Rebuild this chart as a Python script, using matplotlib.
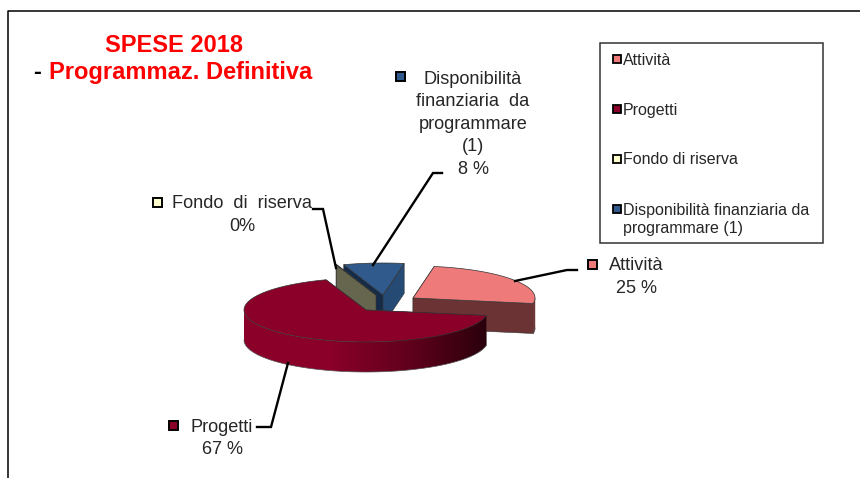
import numpy as np
import matplotlib
matplotlib.use('Agg')
import matplotlib.pyplot as plt
from matplotlib.patches import Polygon, Rectangle
from matplotlib.colors import LinearSegmentedColormap

plt.rcParams['font.family'] = ['Liberation Sans', 'DejaVu Sans']

# data
categories = ['Attività', 'Progetti', 'Fondo di riserva', 'Disponibilità finanziaria da\nprogrammare (1)']
shares = [25, 67, 0.1, 8]
slice_labels = [['Attività', '25 %'], ['Progetti', '67 %'], ['Fondo  di  riserva', '0%'],
                ['Disponibilità', 'finanziaria  da', 'programmare', '(1)', '8 %']]
top_colors = ['#EE7A7A', '#8B0029', '#FFFFCC', '#30598C']
wall_colors = ['#6B3333', '#8B0029', '#66664F', '#254A74']
inner_colors = ['#6B3333', '#8B0029', '#66664F', '#142C4A']
explode = [(47, -12), (0, 0), (10, -15), (17, -15)]

W, H = 860, 478
CX, CY = 366, 310
RX, RY = 122, 32
DEPTH = 30
START = 80.0

fig = plt.figure(figsize=(W / 100, H / 100), dpi=100)
ax = fig.add_axes([0, 0, 1, 1])

# outer frame, only top and left are visible
ax.plot([7.5, 7.5, W], [H, 10.5, 10.5], color='black', lw=1.1, solid_capstyle='butt')

rim_cmap = LinearSegmentedColormap.from_list('rim', [(0, '#8B0029'), (0.35, '#8B0029'), (0.7, '#5E001C'), (1, '#2A000C')])


def arc(cx, cy, t0, t1, n=120):
    t = np.radians(np.linspace(t0, t1, n))
    return cx + RX * np.cos(t), cy - RY * np.sin(t)


def wall(cx, cy, t, color):
    x, y = arc(cx, cy, t, t, 1)
    ax.fill([cx, x[0], x[0], cx], [cy, y[0], y[0] + DEPTH, cy + DEPTH],
            facecolor=color, edgecolor='#333333', lw=0.4)


def draw_slice(i, t0, t1):
    cx, cy = CX + explode[i][0], CY + explode[i][1]
    wall(cx, cy, t0, inner_colors[i])
    wall(cx, cy, t1, wall_colors[i])
    # visible part of the outer rim is the front half of the ellipse
    a = max(t1, -180)
    b = min(t0, 0)
    if b > a:
        x, y = arc(cx, cy, a, b)
        pts = np.c_[np.r_[x, x[::-1]], np.r_[y, y[::-1] + DEPTH]]
        if i == 1:
            # Progetti fades to near black towards the right
            img = ax.imshow(np.linspace(0, 1, 256)[None, :], cmap=rim_cmap, aspect='auto',
                            extent=(x.min(), x.max(), y.max() + DEPTH, y.min()), zorder=1)
            clip = Polygon(pts, closed=True, transform=ax.transData, facecolor='none', edgecolor='none')
            ax.add_patch(clip)
            img.set_clip_path(clip)
        else:
            ax.fill(pts[:, 0], pts[:, 1], facecolor=wall_colors[i], edgecolor=wall_colors[i], lw=0.3)
        ax.plot(x, y + DEPTH, color='#555555', lw=0.5, zorder=1.1)
    x, y = arc(cx, cy, t0, t1)
    ax.fill(np.r_[cx, x], np.r_[cy, y], facecolor=top_colors[i], edgecolor='#333333', lw=0.5, zorder=1.2)


# angles go clockwise from the start angle
sweeps = np.array(shares) / sum(shares) * 360
ends = START - np.cumsum(sweeps)
starts = np.r_[START, ends[:-1]]

# painter order, back slices first
for i in [3, 2, 0, 1]:
    draw_slice(i, starts[i], ends[i])

ax.set_xlim(0, W)
ax.set_ylim(H, 0)
ax.axis('off')

# leader lines
leaders = [
    ([515, 567, 577], [281, 270, 270]),
    ([288, 271, 257], [363, 427, 427]),
    ([336, 323, 313], [268, 209, 209]),
    ([373, 433, 442], [265, 173, 173]),
]
for lx, ly in leaders:
    ax.plot(lx, ly, color='black', lw=1.7, solid_joinstyle='miter', zorder=3)

# data labels with their little keys
label_x = [636, 222, 242, 473]
label_y = [266, 427, 204, 79]
line_gap = 22.6
key_xy = [(592, 264), (173, 425), (157, 202), (400, 76)]
for i in range(4):
    for j, line in enumerate(slice_labels[i]):
        ax.text(label_x[i], label_y[i] + j * line_gap, line, ha='center', va='center',
                fontsize=13.1, color='#262626')
    kx, ky = key_xy[i]
    ax.add_patch(Rectangle((kx - 4.5, ky - 4.5), 9, 9, facecolor=top_colors[i],
                           edgecolor='black', lw=1.4))

# title
ax.text(174, 45, 'SPESE 2018', ha='center', va='center', fontsize=17, fontweight='bold', color='#FF0000')
ax.text(33, 72, '-', ha='left', va='center', fontsize=17, fontweight='bold', color='black')
ax.text(49, 72, 'Programmaz. Definitiva', ha='left', va='center', fontsize=17, fontweight='bold',
        color='#FF0000')

# legend box, built by hand so the key sits on the first line of the wrapped entry
ax.add_patch(Rectangle((600, 43), 223, 200, facecolor='white', edgecolor='#333333', lw=1.1, zorder=2))
legend_y = [59, 109, 159, 209]
for i in range(4):
    ax.add_patch(Rectangle((612.5, legend_y[i] - 4), 8, 8, facecolor=top_colors[i],
                           edgecolor='black', lw=1.3, zorder=3))
    ax.text(623, legend_y[i] - 6.5, categories[i], ha='left', va='top', fontsize=11.5,
            color='#262626', linespacing=1.32, zorder=3)

fig.savefig('out.png', dpi=100)
